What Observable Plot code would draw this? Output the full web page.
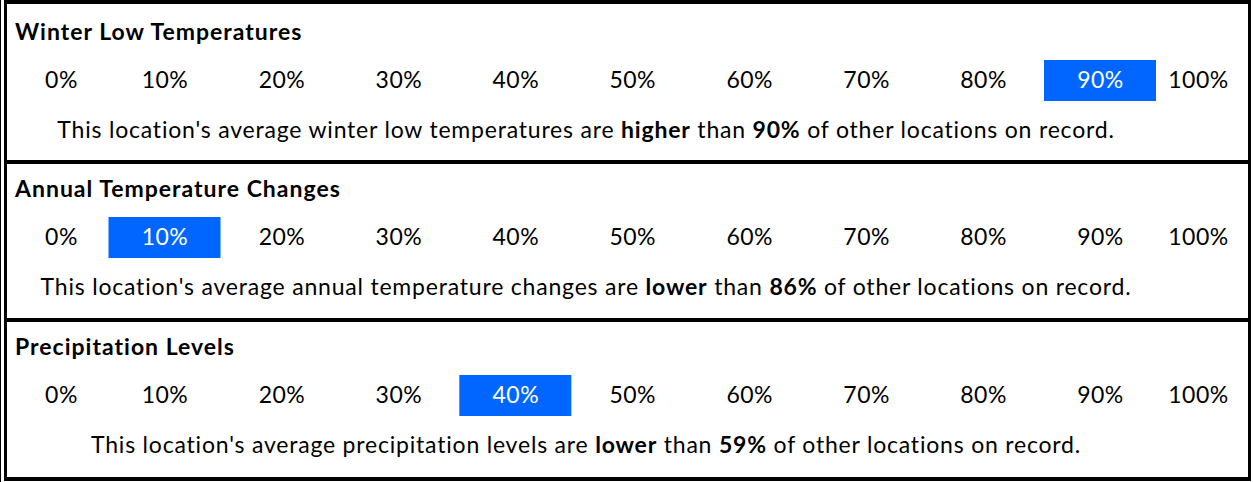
<!DOCTYPE html>
<html><head><meta charset="utf-8">
<script src="https://cdn.jsdelivr.net/npm/d3@7"></script>
<script src="https://cdn.jsdelivr.net/npm/@observablehq/plot@0.6"></script>
<style>
html,body{margin:0;padding:0;background:#fff;}
body{width:1253px;height:482px;position:relative;overflow:hidden;font-family:Lato,"Open Sans",sans-serif;color:#000;font-variant-ligatures:none;}
#edge{position:absolute;left:0;top:0;width:1px;height:482px;background:#000;}
#frame{position:absolute;left:4px;top:0;width:1241px;height:473px;border:solid #000;border-width:4px 3px 4px 3px;}
.panel{position:relative;width:1241px;}
.panel + .panel{border-top:4px solid #000;}
.inner{position:absolute;left:0;top:0;width:100%;height:100%;}
.first .inner{top:3px;}
.title{position:absolute;left:8px;top:13px;font-weight:bold;font-size:23px;line-height:22px;letter-spacing:1px;white-space:nowrap;}
.row{position:absolute;left:0;top:53px;}
.row svg{display:block;font-variant-ligatures:none;}
.sentence{position:absolute;left:0;width:1158px;top:111px;text-align:center;font-size:23px;line-height:22px;letter-spacing:0.8px;white-space:nowrap;}
</style></head>
<body>
<div id="edge"></div>
<div id="frame"></div>
<script>
// ---- data ----
const ticks = [0, 10, 20, 30, 40, 50, 60, 70, 80, 90, 100];
const titles = ["Winter Low Temperatures", "Annual Temperature Changes", "Precipitation Levels"];
const subjects = ["winter low temperatures", "annual temperature changes", "precipitation levels"];
const highlighted = [90, 10, 40];
const comparisons = ["higher", "lower", "lower"];
const percentiles = [90, 86, 59];

const panelHeights = [156, 154, 155];
const BLUE = "#0066FF";

const frame = document.getElementById("frame");
titles.forEach((title, i) => {
  const panel = document.createElement("div");
  panel.className = "panel" + (i === 0 ? " first" : "");
  panel.style.height = panelHeights[i] + "px";
  const inner = document.createElement("div");
  inner.className = "inner";
  panel.appendChild(inner);

  const t = document.createElement("div");
  t.className = "title";
  t.textContent = title;
  inner.appendChild(t);

  const hv = highlighted[i];
  const chart = Plot.plot({
    width: 1241,
    height: 41,
    margin: 0,
    x: {type: "linear", domain: [0, 10, 90, 100], range: [54, 157.5, 1093, 1191], axis: null},
    style: {fontFamily: "Lato, 'Open Sans', sans-serif", fontSize: "23px", letterSpacing: "0.5px", background: "transparent"},
    marks: [
      Plot.barX([hv], {x1: d => d, x2: d => d, insetLeft: -56, insetRight: -56, fill: BLUE}),
      Plot.text(ticks.filter(d => d !== hv), {x: d => d, text: d => d + "%", frameAnchor: "middle", fill: "black", fontSize: 23}),
      Plot.text([hv], {x: d => d, text: d => d + "%", frameAnchor: "middle", fill: "white", fontSize: 23})
    ]
  });
  const row = document.createElement("div");
  row.className = "row";
  row.appendChild(chart);
  inner.appendChild(row);

  const s = document.createElement("div");
  s.className = "sentence";
  s.innerHTML = `This location's average ${subjects[i]} are <b>${comparisons[i]}</b> than <b>${percentiles[i]}%</b> of other locations on record.`;
  inner.appendChild(s);

  frame.appendChild(panel);
});
</script>
</body></html>
